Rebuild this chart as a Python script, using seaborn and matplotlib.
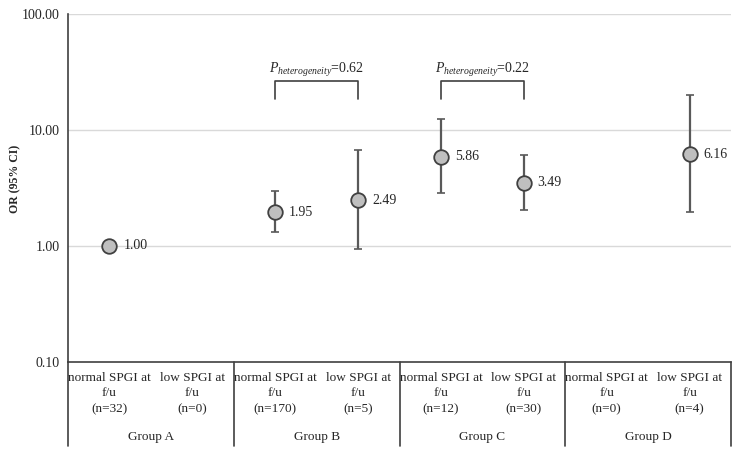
import numpy as np
import matplotlib
matplotlib.use("Agg")
from matplotlib import pyplot as plt
import matplotlib.transforms as mtransforms
import seaborn as sns
import pandas as pd

# data
categories = ["normal SPGI at\nf/u\n(n=32)", "low SPGI at\nf/u\n(n=0)",
              "normal SPGI at\nf/u\n(n=170)", "low SPGI at\nf/u\n(n=5)",
              "normal SPGI at\nf/u\n(n=12)", "low SPGI at\nf/u\n(n=30)",
              "normal SPGI at\nf/u\n(n=0)", "low SPGI at\nf/u\n(n=4)"]
groups = ["Group A", "Group B", "Group C", "Group D"]
odds_ratio = [1.00, np.nan, 1.95, 2.49, 5.86, 3.49, np.nan, 6.16]
ci_low = [np.nan, np.nan, 1.32, 0.94, 2.86, 2.04, np.nan, 1.96]
ci_high = [np.nan, np.nan, 2.98, 6.72, 12.4, 6.09, np.nan, 20.0]
p_het = {"Group B": 0.62, "Group C": 0.22}

sns.set_style("white")
plt.rcParams["font.family"] = ["Liberation Serif", "DejaVu Serif"]
plt.rcParams["mathtext.fontset"] = "custom"
plt.rcParams["mathtext.rm"] = "Liberation Serif"
plt.rcParams["mathtext.it"] = "Liberation Serif:italic"

df = pd.DataFrame({"pos": np.arange(len(categories)), "OR": odds_ratio,
                   "lo": ci_low, "hi": ci_high})

fig = plt.figure(figsize=(7.41, 4.5), dpi=100)
ax = fig.add_axes([0.0918, 0.1956, 0.8947, 0.7734])

ax.set_yscale("log")
ax.set_ylim(0.1, 100)
ax.set_xlim(-0.5, len(categories) - 0.5)

# gridlines
for v in [1, 10, 100]:
    ax.axhline(v, color="#d9d9d9", lw=1, zorder=0)

# error bars
ci = df.dropna(subset=["lo"])
ax.errorbar(ci["pos"], ci["OR"], yerr=[ci["OR"] - ci["lo"], ci["hi"] - ci["OR"]],
            fmt="none", ecolor="#595959", elinewidth=1.6, capsize=3, capthick=1.2, zorder=2)

sns.scatterplot(data=df.dropna(subset=["OR"]), x="pos", y="OR", ax=ax, s=110,
                color="#bfbfbf", edgecolor="#404040", linewidth=1.3, zorder=3)

for _, r in df.dropna(subset=["OR"]).iterrows():
    ax.annotate(f"{r['OR']:.2f}", (r["pos"], r["OR"]), xytext=(10, 0),
                textcoords="offset points", va="center", ha="left", fontsize=10, color="#262626")

ax.set_yticks([0.1, 1, 10, 100])
ax.set_yticklabels(["0.10", "1.00", "10.00", "100.00"], fontsize=10, color="#262626")
ax.minorticks_off()
ax.tick_params(axis="y", length=0, pad=6)
ax.set_xticks([])
ax.set_xlabel("")
ax.set_ylabel("OR (95% CI)", fontsize=8.5, fontweight="bold", color="#262626")
ax.yaxis.set_label_coords(-0.071, 0.525)

for s in ["top", "right"]:
    ax.spines[s].set_visible(False)
for s in ["left", "bottom"]:
    ax.spines[s].set_color("#404040")
    ax.spines[s].set_linewidth(1.2)

# category labels and group labels below the axis
trans = mtransforms.blended_transform_factory(ax.transData, ax.transAxes)
for i, c in enumerate(categories):
    ax.text(i, -0.028, c, transform=trans, ha="center", va="top",
            fontsize=9.5, color="#262626", linespacing=1.4)
for g, name in enumerate(groups):
    ax.text(2 * g + 0.5, -0.215, name, transform=trans, ha="center", va="center",
            fontsize=9.5, color="#262626")
for b in range(len(groups) + 1):
    ax.plot([2 * b - 0.5, 2 * b - 0.5], [0, -0.24], transform=trans,
            color="#404040", lw=1.2, clip_on=False)

# heterogeneity brackets
for g, name in enumerate(groups):
    if name in p_het:
        x0, x1 = 2 * g, 2 * g + 1
        ax.plot([x0, x0, x1, x1], [0.756, 0.807, 0.807, 0.756], transform=trans,
                color="#404040", lw=1.2)
        ax.text((x0 + x1) / 2, 0.84, r"$P_{heterogeneity}$" + f"={p_het[name]:.2f}",
                transform=trans, ha="center", va="center", fontsize=10, color="#262626")

fig.savefig("out.png", dpi=100)
